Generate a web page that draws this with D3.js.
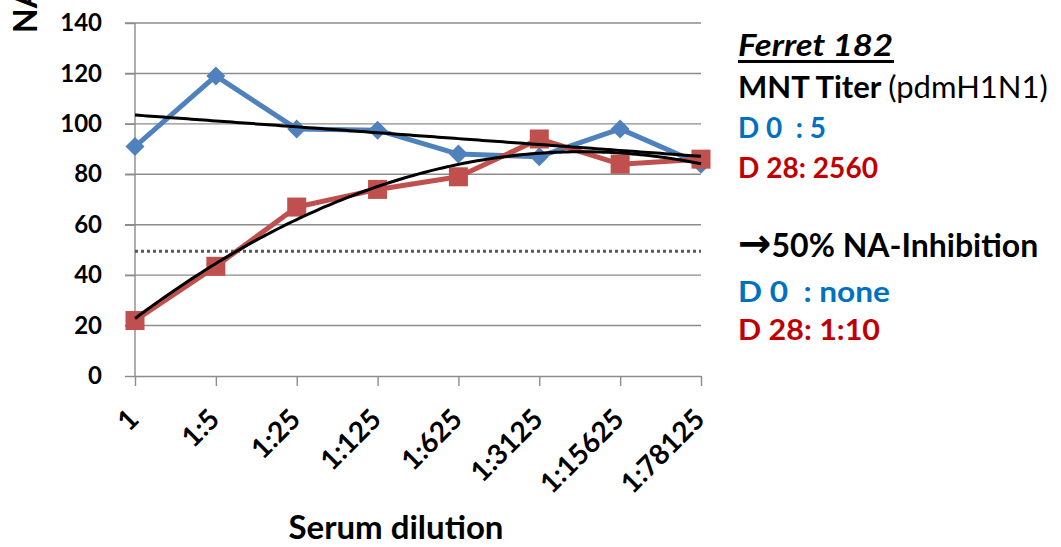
<!DOCTYPE html>
<html>
<head>
<meta charset="utf-8">
<script src="https://cdn.jsdelivr.net/npm/d3@7"></script>
<style>
  body { margin: 0; background: #fff; }
  text { font-family: Lato, "Open Sans", sans-serif; }
</style>
</head>
<body>
<div id="chart"></div>
<script>
// categories and values
const dilutions = ["1", "1:5", "1:25", "1:125", "1:625", "1:3125", "1:15625", "1:78125"];
const day0 = [91, 119, 98, 97.5, 88, 87, 98, 84];
const day28 = [22, 43.5, 67, 74, 79, 94, 84, 86];
const yTicks = [0, 20, 40, 60, 80, 100, 120, 140];
const cutoff = 49.5;

const width = 1061, height = 547;
const blue = "#4F81BD", red = "#C0504D";

// least squares polynomial fit (like an Excel trendline)
function polyFit(ys, degree) {
  const n = degree + 1;
  const A = d3.range(n).map(() => new Array(n + 1).fill(0));
  ys.forEach((y, i) => {
    const x = i + 1;
    for (let r = 0; r < n; r++) {
      for (let c = 0; c < n; c++) A[r][c] += Math.pow(x, r + c);
      A[r][n] += y * Math.pow(x, r);
    }
  });
  for (let p = 0; p < n; p++) {
    for (let r = p + 1; r < n; r++) {
      const f = A[r][p] / A[p][p];
      for (let c = p; c <= n; c++) A[r][c] -= f * A[p][c];
    }
  }
  const coef = new Array(n).fill(0);
  for (let r = n - 1; r >= 0; r--) {
    let s = A[r][n];
    for (let c = r + 1; c < n; c++) s -= A[r][c] * coef[c];
    coef[r] = s / A[r][r];
  }
  return x => coef.reduce((s, a, k) => s + a * Math.pow(x, k), 0);
}

const svg = d3.select("#chart").append("svg")
    .attr("width", width)
    .attr("height", height)
    .attr("viewBox", [0, 0, width, height]);

const xScale = d3.scalePoint(dilutions, [135, 701]);
const yScale = d3.scaleLinear([0, 140], [376, 23]);

// horizontal grid
svg.append("g")
  .selectAll("line")
  .data(yTicks.filter(d => d > 0))
  .join("line")
    .attr("x1", 125).attr("x2", 701)
    .attr("y1", d => yScale(d)).attr("y2", d => yScale(d))
    .attr("stroke", "#8c8c8c")
    .attr("stroke-width", 1.4);

// y axis
svg.append("g")
    .attr("transform", "translate(135,0)")
    .call(d3.axisLeft(yScale).tickValues(yTicks).tickSize(10).tickPadding(23))
    .call(g => g.select(".domain").attr("stroke", "#8c8c8c").attr("stroke-width", 1.4).attr("d", "M0,23V376"))
    .call(g => g.selectAll(".tick line").attr("stroke", "#8c8c8c").attr("stroke-width", 1.4))
    .call(g => g.selectAll(".tick text")
        .attr("fill", "#000")
        .attr("font-size", 24)
        .attr("font-weight", "bold")
        .attr("font-family", "Lato, sans-serif"));

// x axis
svg.append("g")
    .attr("transform", "translate(0,376)")
    .call(d3.axisBottom(xScale).tickSize(10).tickSizeOuter(0))
    .call(g => g.select(".domain").attr("stroke", "#8c8c8c").attr("stroke-width", 1.4))
    .call(g => g.selectAll(".tick line").attr("stroke", "#8c8c8c").attr("stroke-width", 1.4))
    .call(g => g.selectAll(".tick text")
        .attr("fill", "#000")
        .attr("font-size", 28)
        .attr("font-weight", "bold")
        .attr("font-family", "Lato, sans-serif")
        .attr("text-anchor", "end")
        .attr("dy", null)
        .attr("y", 0)
        .attr("transform", "translate(5,45) rotate(-45)"));

// 50% line
svg.append("line")
    .attr("x1", 135).attr("x2", 701)
    .attr("y1", yScale(cutoff)).attr("y2", yScale(cutoff))
    .attr("stroke", "#595959")
    .attr("stroke-width", 3)
    .attr("stroke-dasharray", "3,3");

const line = d3.line()
    .x((d, i) => xScale(dilutions[i]))
    .y(d => yScale(d));

// day 0 series (diamonds)
svg.append("path")
    .attr("d", line(day0))
    .attr("fill", "none")
    .attr("stroke", blue)
    .attr("stroke-width", 5)
    .attr("stroke-linejoin", "round");
svg.append("g")
  .selectAll("path")
  .data(day0)
  .join("path")
    .attr("transform", (d, i) => `translate(${xScale(dilutions[i])},${yScale(d)})`)
    .attr("d", "M0,-9.5L9.5,0L0,9.5L-9.5,0Z")
    .attr("fill", blue);

// day 28 series (squares)
svg.append("path")
    .attr("d", line(day28))
    .attr("fill", "none")
    .attr("stroke", red)
    .attr("stroke-width", 5)
    .attr("stroke-linejoin", "round");
svg.append("g")
  .selectAll("rect")
  .data(day28)
  .join("rect")
    .attr("x", (d, i) => xScale(dilutions[i]) - 9.5)
    .attr("y", d => yScale(d) - 9.5)
    .attr("width", 19).attr("height", 19)
    .attr("fill", red);

// trend lines
const step = xScale.step();
const trendLine = f => d3.line()
    .x(x => xScale(dilutions[0]) + (x - 1) * step)
    .y(x => yScale(f(x)))(d3.range(1, 8.001, 0.05));

svg.append("path")
    .attr("d", trendLine(polyFit(day0, 1)))
    .attr("fill", "none")
    .attr("stroke", "#000")
    .attr("stroke-width", 3);
svg.append("path")
    .attr("d", trendLine(polyFit(day28, 2)))
    .attr("fill", "none")
    .attr("stroke", "#000")
    .attr("stroke-width", 3);

// axis titles
svg.append("text")
    .attr("transform", "translate(37,33) rotate(-90)")
    .attr("font-size", 32)
    .attr("font-weight", "bold")
    .text("NA activity (%)");

svg.append("text")
    .attr("x", 396).attr("y", 539)
    .attr("text-anchor", "middle")
    .attr("font-size", 33)
    .attr("font-weight", "bold")
    .text("Serum dilution");

// annotation block
const note = svg.append("g").attr("transform", "translate(738,0)");
note.append("text")
    .attr("y", 56)
    .attr("font-size", 30)
    .attr("font-weight", "bold")
    .attr("font-style", "italic")
    .attr("textLength", 155)
    .attr("lengthAdjust", "spacingAndGlyphs")
    .text("Ferret 182");
note.append("rect")
    .attr("x", 0).attr("y", 60)
    .attr("width", 156).attr("height", 3)
    .attr("fill", "#000");

const mnt = note.append("text").attr("y", 98).attr("font-size", 31);
mnt.append("tspan").attr("font-weight", "bold").text("MNT Titer ");
mnt.append("tspan").text("(pdmH1N1)");

const dLine = (y, color, label, len) => note.append("text")
    .attr("y", y)
    .attr("font-size", 29)
    .attr("font-weight", "bold")
    .attr("fill", color)
    .attr("xml:space", "preserve")
    .attr("textLength", len)
    .attr("lengthAdjust", "spacingAndGlyphs")
    .text(label);

dLine(138, "#0070C0", "D 0  : 5", 88);
dLine(178, "#C00000", "D 28: 2560", 140);

const inhib = note.append("text").attr("y", 257).attr("font-weight", "bold");
inhib.append("tspan")
    .attr("font-family", "DejaVu Sans, sans-serif")
    .attr("font-size", 40)
    .text("\u2192");
inhib.append("tspan")
    .attr("font-size", 32)
    .text("50% NA-Inhibition");

dLine(302, "#0070C0", "D 0  : none", 152);
dLine(340, "#C00000", "D 28: 1:10", 142);
</script>
</body>
</html>
